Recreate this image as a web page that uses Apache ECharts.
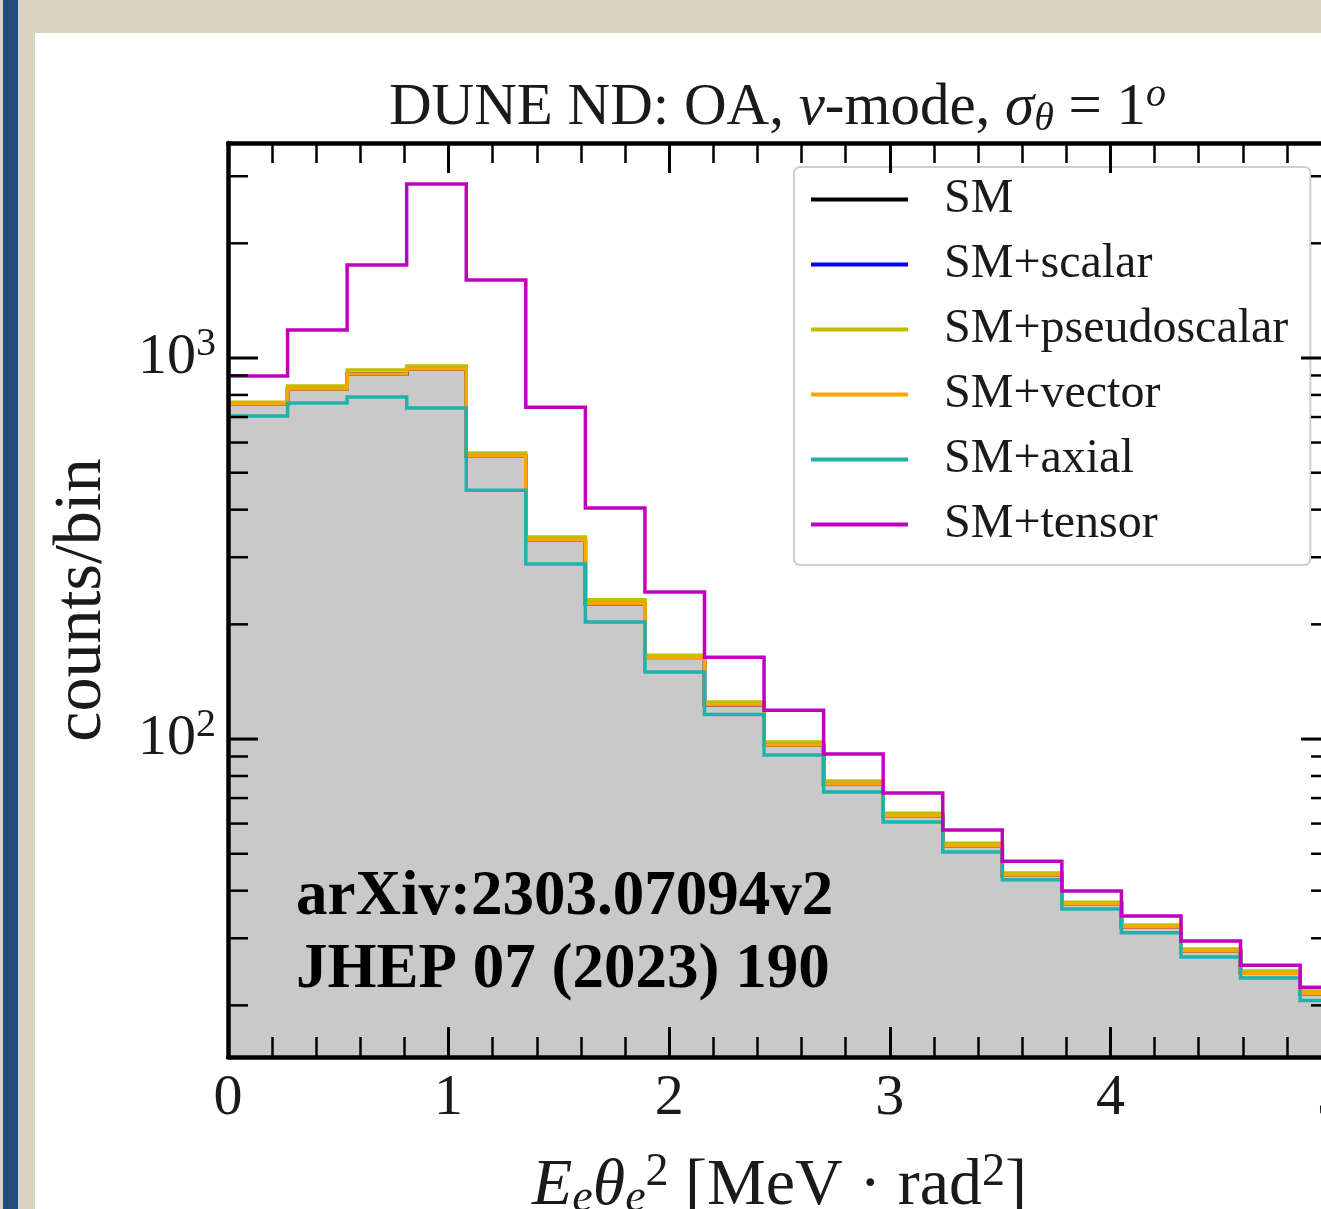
<!DOCTYPE html>
<html><head><meta charset="utf-8">
<script src="https://cdn.jsdelivr.net/npm/echarts@6/dist/echarts.min.js"></script>
<style>html,body{margin:0;padding:0;background:#fff}#c{width:1321px;height:1209px}</style>
</head><body><div id="c"></div>
<script>
// ---- data ----
const binEdges = [0, 0.27, 0.54, 0.81, 1.08, 1.35, 1.62, 1.89, 2.16, 2.43, 2.70, 2.97, 3.24, 3.51, 3.78, 4.05, 4.32, 4.59, 4.86, 5.13];
const smCounts       = [757, 829, 908, 936, 553, 333, 227, 163, 123, 96.4, 76.2, 62.8, 52.4, 44.0, 36.9, 32.1, 27.8, 24.3, 21.5];
const scalarCounts   = [757, 829, 908, 936, 553, 333, 227, 163, 123, 96.4, 76.2, 62.8, 52.4, 44.0, 36.9, 32.1, 27.8, 24.3, 21.5];
const pseudoCounts   = [766, 844, 930, 953, 563, 339, 232, 166, 125, 98.2, 77.6, 63.9, 53.3, 44.5, 37.3, 32.5, 28.1, 24.6, 21.8];
const vectorCounts   = [757, 829, 908, 936, 553, 333, 227, 163, 123, 96.4, 76.2, 62.8, 52.4, 44.0, 36.9, 32.1, 27.8, 24.3, 21.5];
const axialCounts    = [704, 762, 790, 739, 450, 288, 203, 150, 116, 90.8, 72.6, 60.6, 50.5, 42.7, 35.8, 31.0, 26.8, 23.6, 20.6];
const tensorCounts   = [897, 1184, 1754, 2862, 1602, 743, 404, 243, 164, 119, 91.3, 72.2, 57.7, 47.8, 39.9, 34.3, 29.5, 25.5, 22.3];
const seriesNames = ['SM', 'SM+scalar', 'SM+pseudoscalar', 'SM+vector', 'SM+axial', 'SM+tensor'];
const yTickValues = [20, 30, 40, 50, 60, 70, 80, 90, 100, 200, 300, 400, 500, 600, 700, 800, 900, 1000, 2000, 3000];
const yMajorTicks = [100, 1000];
const xRange = [0, 5];
const yRange = [14.64, 3667];

const FF = "'Liberation Serif', 'Times New Roman', serif";
const colors = ['#000000', '#0000ff', '#bfbf00', '#ffa500', '#20b2aa', '#bf00bf'];

function stepData(vals) {
  const pts = vals.map((v, i) => [binEdges[i], v]);
  pts.push([binEdges[vals.length], vals[vals.length - 1]]);
  return pts;
}
function lineSeries(name, vals, color, extra) {
  return Object.assign({
    name, type: 'line', step: 'end', data: stepData(vals),
    showSymbol: false, symbol: 'none', silent: true, z: 3,
    lineStyle: { color, width: 3.5, join: 'miter', cap: 'butt' },
    itemStyle: { color }
  }, extra || {});
}

const chart = echarts.init(document.getElementById('c'), null, { renderer: 'canvas' });
const tickData = yTickValues.map(v => [0, v, yMajorTicks.includes(v) ? 1 : 0]);

const axisCommonX = {
  type: 'value', min: xRange[0], max: xRange[1], interval: 1, z: 10,
  axisLine: { show: true, onZero: false, lineStyle: { color: '#000', width: 4.5 } },
  axisTick: { show: true, inside: true, length: 30, lineStyle: { color: '#000', width: 3 } },
  minorTick: { show: true, splitNumber: 5, length: 20, lineStyle: { color: '#000', width: 2.5 } },
  splitLine: { show: false }, minorSplitLine: { show: false }
};
const axisCommonY = {
  type: 'log', logBase: 10, min: yRange[0], max: yRange[1], z: 10,
  axisLine: { show: true, onZero: false, lineStyle: { color: '#000', width: 4.5 } },
  axisTick: { show: false }, minorTick: { show: false },
  splitLine: { show: false }, minorSplitLine: { show: false }
};

chart.setOption({
  animation: false,
  backgroundColor: '#d8d4bf',
  title: {
    text: 'DUNE ND: OA, {i|ν}-mode, {i|σ}{sub|θ} = 1{sup|o}',
    left: 384, top: 70,
    textStyle: {
      fontFamily: FF, fontSize: 59, fontWeight: 'normal', color: '#1a1a1a',
      rich: {
        i: { fontFamily: FF, fontSize: 59, fontStyle: 'italic', color: '#1a1a1a' },
        sub: { fontFamily: FF, fontSize: 40, fontStyle: 'italic', color: '#1a1a1a', padding: [22, 0, 0, 0] },
        sup: { fontFamily: FF, fontSize: 40, fontStyle: 'italic', color: '#1a1a1a', padding: [0, 0, 26, 0] }
      }
    }
  },
  grid: { left: 228, top: 143, width: 1103, height: 914, containLabel: false, outerBoundsMode: 'none' },
  legend: {
    orient: 'vertical', left: 794, top: 167,
    data: seriesNames.map((n, i) => ({ name: n, icon: 'rect', itemStyle: { color: colors[i] } })),
    itemWidth: 97, itemHeight: 4, itemGap: 0,
    padding: [0, 22, 8, 17],
    backgroundColor: '#ffffff', borderColor: '#cfcfcf', borderWidth: 2, borderRadius: 6,
    selectedMode: false,
    textStyle: { fontFamily: FF, fontSize: 48, color: '#1a1a1a', lineHeight: 65, padding: [0, 0, 0, 31] }
  },
  xAxis: [
    Object.assign({}, axisCommonX, {
      position: 'bottom',
      axisLabel: { show: true, margin: 13, fontFamily: FF, fontSize: 58, color: '#1a1a1a' },
      name: '{i|E}{isub|e}{i|θ}{isub|e}{sup|2} [MeV · rad{sup|2}]',
      nameLocation: 'middle', nameGap: 93,
      nameTextStyle: {
        fontFamily: FF, fontSize: 66, color: '#1a1a1a',
        rich: {
          i: { fontFamily: FF, fontSize: 66, fontStyle: 'italic', color: '#1a1a1a' },
          isub: { fontFamily: FF, fontSize: 46, fontStyle: 'italic', color: '#1a1a1a', padding: [24, 0, 0, 0] },
          sup: { fontFamily: FF, fontSize: 46, color: '#1a1a1a', padding: [0, 0, 28, 0] }
        }
      }
    }),
    Object.assign({}, axisCommonX, { position: 'top', axisLabel: { show: false } })
  ],
  yAxis: [
    Object.assign({}, axisCommonY, {
      position: 'left',
      axisLabel: {
        show: true, margin: 12,
        formatter: v => {
          const e = Math.round(Math.log10(v));
          if (Math.abs(Math.log10(v) - e) < 1e-6 && yMajorTicks.includes(Math.pow(10, e))) return '{b|10}{s|' + e + '}';
          return '';
        },
        rich: {
          b: { fontFamily: FF, fontSize: 58, color: '#1a1a1a' },
          s: { fontFamily: FF, fontSize: 40, color: '#1a1a1a', padding: [0, 0, 28, 0] }
        }
      },
      name: 'counts/bin', nameLocation: 'middle', nameGap: 112, nameRotate: 90,
      nameTextStyle: { fontFamily: FF, fontSize: 68, color: '#1a1a1a' }
    }),
    Object.assign({}, axisCommonY, { position: 'right', axisLabel: { show: false } })
  ],
  series: [
    lineSeries('SM', smCounts, colors[0], { areaStyle: { color: '#c9c9c9', opacity: 1, origin: 'start' }, z: 2 }),
    lineSeries('SM+scalar', scalarCounts, colors[1]),
    lineSeries('SM+pseudoscalar', pseudoCounts, colors[2]),
    lineSeries('SM+vector', vectorCounts, colors[3]),
    lineSeries('SM+axial', axialCounts, colors[4]),
    lineSeries('SM+tensor', tensorCounts, colors[5]),
    {
      type: 'custom', name: 'yticks', data: tickData, encode: { x: 0, y: 1 }, z: 4, silent: true, clip: false,
      renderItem: (params, api) => {
        const v = api.value(1); const major = api.value(2) === 1;
        const pL = api.coord([xRange[0], v]); const pR = api.coord([xRange[1], v]);
        const len = major ? 30 : 20; const w = major ? 3 : 2.5;
        return { type: 'group', children: [
          { type: 'line', shape: { x1: pL[0], y1: pL[1], x2: pL[0] + len, y2: pL[1] }, style: { stroke: '#000', lineWidth: w } },
          { type: 'line', shape: { x1: pR[0] - len, y1: pR[1], x2: pR[0], y2: pR[1] }, style: { stroke: '#000', lineWidth: w } }
        ] };
      }
    }
  ],
  graphic: [
    { type: 'rect', silent: true, z: -100, shape: { x: 3, y: 0, width: 15, height: 1209 }, style: { fill: '#234b7c' } },
    { type: 'rect', silent: true, z: -99, shape: { x: 35, y: 33, width: 1286, height: 1176 }, style: { fill: '#ffffff' } },
    { type: 'text', silent: true, z: 50, x: 296, y: 898,
      style: { text: 'arXiv:2303.07094v2', font: 'bold 63px ' + FF, fill: '#000', verticalAlign: 'middle' } },
    { type: 'text', silent: true, z: 50, x: 296, y: 971,
      style: { text: 'JHEP 07 (2023) 190', font: 'bold 63px ' + FF, fill: '#000', verticalAlign: 'middle' } }
  ]
});
</script></body></html>
